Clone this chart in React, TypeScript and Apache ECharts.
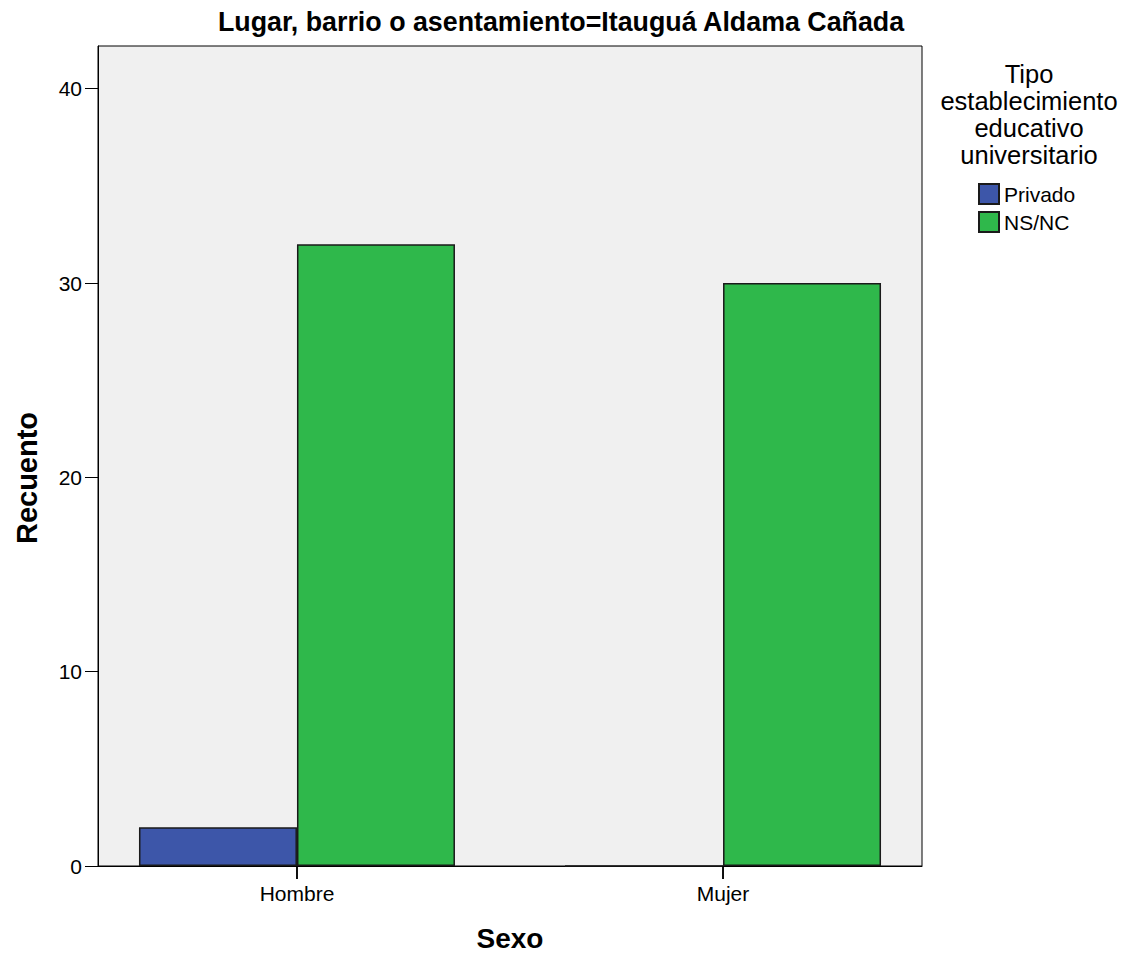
import React, { useEffect, useRef } from "react";
import * as echarts from "echarts";

const categories = ["Hombre", "Mujer"];
const seriesNames = ["Privado", "NS/NC"];
const privadoValues = [2, 0];
const nsncValues = [32, 30];
const yTicks = [0, 10, 20, 30, 40];
const titleText = "Lugar, barrio o asentamiento=Itauguá Aldama Cañada";
const legendTitle = "Tipo\nestablecimiento\neducativo\nuniversitario";
const yName = "Recuento";
const xName = "Sexo";

const FONT = "'Liberation Sans', Arial, Helvetica, sans-serif";

export default function App() {
  const ref = useRef<HTMLDivElement>(null);
  useEffect(() => {
    if (!ref.current) return;
    const chart = echarts.init(ref.current, undefined, { renderer: "svg" });
    const catIdx = categories.map((_, i) => i);
    const baseGraphics: any[] = [
      {
        type: "text",
        x: 561,
        y: 22,
        style: {
          text: titleText,
          font: `bold 26.8px ${FONT}`,
          fill: "#000",
          textAlign: "center",
          textVerticalAlign: "middle",
        },
      },
      {
        type: "text",
        x: 1029,
        y: 60,
        style: {
          text: legendTitle,
          font: `25.5px ${FONT}`,
          lineHeight: 27,
          fill: "#000",
          textAlign: "center",
          textVerticalAlign: "top",
        },
      },
      {
        type: "text",
        x: 27,
        y: 478,
        rotation: Math.PI / 2,
        style: {
          text: yName,
          font: `bold 29px ${FONT}`,
          fill: "#000",
          textAlign: "center",
          textVerticalAlign: "middle",
        },
      },
    ];
    chart.setOption({
      animation: false,
      textStyle: { fontFamily: FONT },
      graphic: baseGraphics,
      legend: {
        orient: "vertical",
        left: 978,
        top: 183,
        itemWidth: 20,
        itemHeight: 20,
        itemGap: 6,
        padding: 0,
        icon: "rect",
        data: seriesNames,
        textStyle: { fontSize: 21, color: "#000", fontFamily: FONT },
      },
      grid: {
        left: 98,
        top: 46,
        width: 824,
        height: 821,
        show: true,
        backgroundColor: "#f0f0f0",
        borderColor: "#000",
        borderWidth: 1,
      },
      xAxis: {
        type: "value",
        min: -0.467,
        max: 1.467,
        name: xName,
        nameLocation: "middle",
        nameGap: 58,
        nameTextStyle: { fontSize: 28, fontWeight: "bold", color: "#000", fontFamily: FONT },
        axisLine: { onZero: false, lineStyle: { color: "#000", width: 1 } },
        axisTick: { show: true, inside: false, length: 13, lineStyle: { color: "#000", width: 1.5 }, customValues: catIdx },
        axisLabel: {
          customValues: catIdx,
          formatter: (v: number) => categories[Math.round(v)] ?? "",
          fontSize: 21,
          color: "#000",
          margin: 17,
          fontFamily: FONT,
        },
        splitLine: { show: false },
      },
      yAxis: {
        type: "value",
        min: 0,
        max: 42.2,
        interval: 10,
        axisLine: { show: true, onZero: false, lineStyle: { color: "#000", width: 1 } },
        axisTick: { show: true, length: 13, lineStyle: { color: "#000", width: 1 }, customValues: yTicks },
        axisLabel: { customValues: yTicks, fontSize: 21, color: "#000", margin: 16, fontFamily: FONT },
        splitLine: { show: false },
      },
      series: [
        {
          name: seriesNames[0],
          type: "bar",
          barWidth: 158,
          barGap: "0%",
          data: privadoValues.map((v, i) => [i, v]),
          itemStyle: { color: "#3d56a9", borderColor: "#1a1a1a", borderWidth: 1.5 },
        },
        {
          name: seriesNames[1],
          type: "bar",
          barWidth: 158,
          barGap: "0%",
          data: nsncValues.map((v, i) => [i, v]),
          itemStyle: { color: "#2fb84b", borderColor: "#1a1a1a", borderWidth: 1.5 },
        },
      ],
    });
    // category tick marks placed through the axes' own scales
    const y0 = chart.convertToPixel({ yAxisIndex: 0 }, 0) as number;
    const tickLines = catIdx.map((i) => {
      const x = chart.convertToPixel({ xAxisIndex: 0 }, i) as number;
      return {
        type: "line",
        z: 100,
        shape: { x1: x, y1: y0, x2: x, y2: y0 + 13 },
        style: { stroke: "#000", lineWidth: 1.5 },
      };
    });
    chart.setOption({ graphic: [...baseGraphics, ...tickLines] });
    return () => chart.dispose();
  }, []);
  return (
    <div
      ref={ref}
      style={{ position: "fixed", left: 0, top: 0, width: 1130, height: 957, background: "#fff" }}
    />
  );
}
